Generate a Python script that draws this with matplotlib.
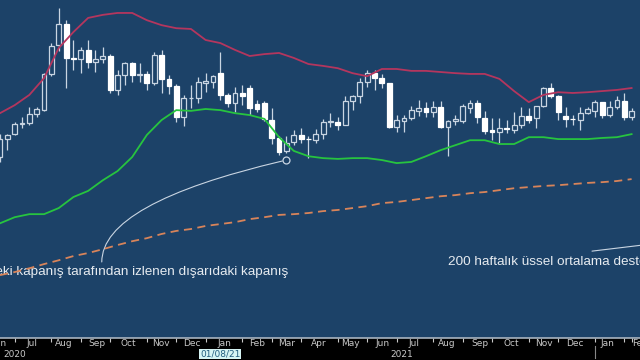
import matplotlib
matplotlib.use("Agg")
import matplotlib.pyplot as plt
import matplotlib.dates as mdates
import matplotlib.transforms as mtransforms
import numpy as np
import pandas as pd

# weekly candles (friday)
dates = pd.date_range("2020-06-12", periods=87, freq="W-FRI")
opens = [1685, 1730, 1745, 1771, 1774, 1798, 1807, 1902, 1978, 2033,
         1944, 1940, 1964, 1934, 1940, 1950, 1861, 1900, 1930, 1899,
         1902, 1879, 1951, 1889, 1871, 1788, 1838, 1839, 1878, 1880,
         1904, 1847, 1826, 1852, 1865, 1823, 1826, 1781, 1734, 1701,
         1723, 1743, 1732, 1728, 1745, 1777, 1777, 1769, 1830, 1843,
         1881, 1905, 1891, 1877, 1764, 1779, 1787, 1806, 1812, 1801,
         1814, 1763, 1779, 1779, 1813, 1827, 1786, 1755, 1749, 1761,
         1755, 1767, 1792, 1786, 1818, 1865, 1844, 1791, 1784, 1782,
         1799, 1805, 1828, 1794, 1815, 1831, 1789]
highs = [1745, 1745, 1775, 1789, 1815, 1815, 1904, 1983, 2075, 2043,
         1992, 1973, 1991, 1965, 1973, 1955, 1912, 1933, 1933, 1930,
         1910, 1960, 1965, 1898, 1875, 1847, 1873, 1894, 1904, 1899,
         1959, 1852, 1868, 1873, 1873, 1834, 1830, 1812, 1740, 1740,
         1755, 1760, 1740, 1758, 1785, 1799, 1790, 1845, 1846, 1890,
         1913, 1912, 1903, 1879, 1794, 1794, 1818, 1834, 1828, 1832,
         1832, 1782, 1795, 1823, 1834, 1834, 1804, 1787, 1787, 1781,
         1801, 1814, 1813, 1819, 1868, 1877, 1848, 1815, 1794, 1815,
         1815, 1833, 1829, 1830, 1843, 1853, 1813]
lows = [1670, 1702, 1741, 1760, 1768, 1789, 1806, 1897, 1963, 1865,
        1911, 1904, 1917, 1907, 1930, 1852, 1847, 1873, 1881, 1881,
        1860, 1873, 1852, 1850, 1776, 1765, 1812, 1826, 1855, 1865,
        1834, 1815, 1802, 1820, 1794, 1802, 1778, 1717, 1689, 1694,
        1715, 1720, 1681, 1720, 1731, 1763, 1756, 1768, 1808, 1825,
        1868, 1860, 1866, 1761, 1750, 1750, 1782, 1791, 1789, 1790,
        1760, 1687, 1768, 1772, 1800, 1774, 1745, 1729, 1722, 1746,
        1747, 1760, 1773, 1760, 1815, 1840, 1781, 1762, 1767, 1755,
        1798, 1789, 1786, 1789, 1809, 1781, 1780]
closes = [1730, 1743, 1771, 1774, 1798, 1810, 1902, 1975, 2033, 1944,
          1940, 1964, 1934, 1940, 1950, 1861, 1900, 1930, 1899, 1902,
          1879, 1951, 1889, 1871, 1788, 1839, 1840, 1881, 1883, 1896,
          1847, 1826, 1852, 1844, 1813, 1810, 1784, 1734, 1697, 1721,
          1742, 1731, 1731, 1745, 1777, 1778, 1769, 1830, 1843, 1881,
          1905, 1891, 1877, 1764, 1781, 1787, 1808, 1812, 1802, 1814,
          1763, 1779, 1784, 1817, 1827, 1788, 1752, 1749, 1760, 1757,
          1768, 1792, 1782, 1818, 1865, 1844, 1802, 1783, 1783, 1799,
          1810, 1828, 1794, 1815, 1833, 1789, 1805]

# bollinger bands and 200 week ema, every second week
upper_band = [1799, 1820, 1847, 1891, 1970, 2012, 2049, 2057, 2062, 2062,
              2043, 2030, 2022, 2020, 1991, 1983, 1965, 1949, 1954, 1957,
              1944, 1928, 1923, 1917, 1904, 1896, 1915, 1915, 1910, 1910,
              1907, 1904, 1902, 1902, 1889, 1857, 1828, 1847, 1854, 1852,
              1854, 1857, 1860, 1865]
lower_band = [1510, 1526, 1534, 1534, 1550, 1579, 1595, 1623, 1647, 1684,
              1742, 1781, 1807, 1805, 1810, 1807, 1799, 1794, 1784, 1736,
              1700, 1686, 1681, 1679, 1681, 1681, 1676, 1668, 1671, 1686,
              1702, 1715, 1728, 1728, 1718, 1718, 1736, 1736, 1731, 1731,
              1731, 1734, 1736, 1744]
ema200 = [1374, 1382, 1392, 1403, 1413, 1424, 1432, 1442, 1453, 1463,
          1471, 1482, 1490, 1495, 1503, 1508, 1513, 1521, 1526, 1532,
          1534, 1537, 1542, 1545, 1550, 1555, 1563, 1566, 1571, 1576,
          1581, 1584, 1589, 1592, 1597, 1602, 1605, 1608, 1610, 1613,
          1616, 1618, 1621, 1626]

bg = "#1c4268"
light = "#c9d5e2"
note_font = ["Liberation Sans", "DejaVu Sans"]

fig = plt.figure(figsize=(6.4, 3.6), dpi=100, facecolor="black")
ax = fig.add_axes([0, 22 / 360, 1, 338 / 360])
ax.set_facecolor(bg)

x = mdates.date2num(dates)
o = np.array(opens, float)
h = np.array(highs, float)
l = np.array(lows, float)
c = np.array(closes, float)
up = c >= o

ax.vlines(x, l, h, color=light, lw=0.9, zorder=2)
ax.bar(x[up], (c - o)[up], bottom=o[up], width=4.6, facecolor=bg,
       edgecolor=light, lw=0.9, zorder=3)
ax.bar(x[~up], (o - c)[~up], bottom=c[~up], width=4.6, facecolor="white",
       edgecolor="white", lw=0.9, zorder=3)

bx = x[::2]
ax.plot(bx, upper_band, color="#b4365e", lw=1.3, zorder=4)
ax.plot(bx, lower_band, color="#27c43f", lw=1.3, zorder=4)
ax.plot(bx, ema200, color="#d8845a", lw=1.3, ls=(0, (4.5, 3)), zorder=4)

x0 = mdates.date2num(pd.Timestamp("2020-06-12"))
ax.set_xlim(x0 + 0.95, x0 + 606.4)
ax.set_ylim(1209, 2096)

# month labels mid-month, tick marks at last bar of each month
months = pd.date_range("2020-06-01", "2022-02-01", freq="MS") + pd.Timedelta(days=11)
ax.set_xticks(mdates.date2num(months))
ax.set_xticklabels([m.strftime("%b") for m in months])
last_bars = pd.Series(dates).groupby([dates.year, dates.month]).max()
ax.set_xticks(mdates.date2num(last_bars), minor=True)
ax.tick_params(axis="x", which="major", length=0, pad=1, labelsize=6.5,
               labelcolor="#c8c8c8")
ax.tick_params(axis="x", which="minor", length=3, width=0.8, color="#c8c8c8")
ax.set_yticks([])
for s in ["left", "right", "top"]:
    ax.spines[s].set_visible(False)
ax.spines["bottom"].set_color("#a8b4c0")
ax.spines["bottom"].set_linewidth(1.2)

trans = mtransforms.blended_transform_factory(ax.transData, ax.transAxes)
ax.text(mdates.date2num(pd.Timestamp("2020-06-26")), -0.048, "2020",
        transform=trans, ha="center", va="center", fontsize=6.5, color="#c8c8c8")
ax.text(mdates.date2num(pd.Timestamp("2021-06-30")), -0.048, "2021",
        transform=trans, ha="center", va="center", fontsize=6.5, color="#c8c8c8")
ax.plot([mdates.date2num(pd.Timestamp("2021-12-31"))] * 2, [-0.024, -0.059],
        transform=trans, color="#888888", lw=0.8, clip_on=False)
ax.text(mdates.date2num(pd.Timestamp("2021-01-08")), -0.048, "01/08/21",
        transform=trans, ha="center", va="center", fontsize=6.5, color="#245f80",
        bbox=dict(boxstyle="square,pad=0.08", fc="#d6f4f4", ec="none"))

# annotations
ax.text(0.45, 0.186, "içerideki kapanış tarafından izlenen dışarıdaki kapanış",
        transform=ax.transAxes, ha="right", va="baseline", fontsize=9.7,
        color="#e6ebf0", family=note_font)
ax.text(0.70, 0.216, "200 haftalık üssel ortalama desteği",
        transform=ax.transAxes, ha="left", va="baseline", fontsize=9.7,
        color="#e6ebf0", family=note_font)

mark_x = mdates.date2num(pd.Timestamp("2021-03-12"))
ax.plot(mark_x, 1676, "o", mfc="none", mec=light, ms=5, mew=0.9, zorder=5)
ax.annotate("", xy=(mark_x, 1676), xytext=(0.159, 0.225),
            textcoords="axes fraction",
            arrowprops=dict(arrowstyle="-", color=light, lw=0.8, shrinkA=0,
                            shrinkB=3,
                            connectionstyle="angle3,angleA=90,angleB=13"))
ax.annotate("", xy=(1.07, 0.29), xycoords="axes fraction",
            xytext=(0.925, 0.257), textcoords="axes fraction",
            arrowprops=dict(arrowstyle="-", color=light, lw=0.8, shrinkA=0,
                            shrinkB=0), annotation_clip=False)

fig.savefig("out.png", dpi=100, facecolor="black")
